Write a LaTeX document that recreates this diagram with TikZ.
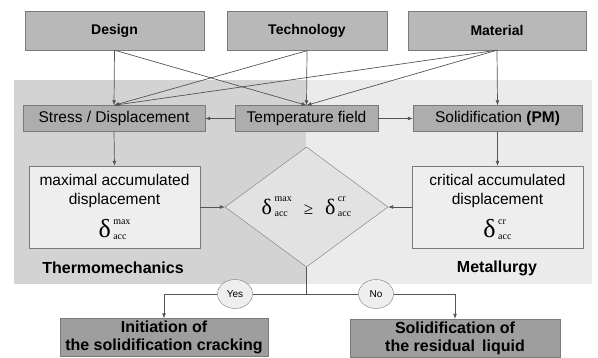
\documentclass[tikz,border=0pt]{standalone}
\usepackage{fontspec}
\setmainfont{Liberation Sans}
\newfontfamily\tms{Liberation Serif}
\usetikzlibrary{arrows.meta,shapes.geometric}

\definecolor{linegray}{HTML}{555555}
\definecolor{edgegray}{HTML}{7A7A7A}
\definecolor{topgray}{HTML}{B8B8B8}
\definecolor{midgray}{HTML}{ADADAD}
\definecolor{lowgray}{HTML}{9E9E9E}
\definecolor{thermogray}{HTML}{D3D3D3}
\definecolor{metalgray}{HTML}{EBEBEB}
\definecolor{boxgray}{HTML}{EEEEEE}
\definecolor{diagray}{HTML}{E2E2E2}

% delta with accumulated index
\newcommand\dacc[2][26]{{\fontsize{#1}{#1}\selectfont\tms δ}\kern2.5pt%
  \raisebox{-2pt}{\fontsize{10}{15}\selectfont\tms
    \vbox{\baselineskip=15pt\hbox{#2}\hbox{acc}}}}

\tikzset{
  topbox/.style={draw=edgegray, fill=topgray, inner sep=0pt, minimum height=39pt,
    font=\fontsize{14}{16}\selectfont\bfseries},
  midbox/.style={draw=edgegray, fill=midgray, inner sep=0pt, minimum height=26pt,
    font=\fontsize{15.5}{18}\selectfont},
  accbox/.style={draw=edgegray, fill=boxgray, inner sep=0pt, minimum width=171pt,
    minimum height=82pt, align=center, font=\fontsize{15.5}{19}\selectfont},
  lowbox/.style={draw=edgegray, fill=lowgray, inner sep=0pt, minimum height=38pt,
    align=center, font=\fontsize{16}{18}\selectfont\bfseries},
  answer/.style={ellipse, draw=edgegray, fill=boxgray, inner sep=0pt,
    minimum width=35pt, minimum height=29pt, font=\fontsize{10}{12}\selectfont},
  area/.style={font=\fontsize{16}{18}\selectfont\bfseries},
  flow/.style={draw=linegray, line width=0.7pt, -{Latex[length=5pt,width=4pt]}},
  link/.style={draw=linegray, line width=0.7pt}
}

\begin{document}
\begin{tikzpicture}[x=1pt,y=-1pt]
\useasboundingbox (0,0) rectangle (598,358);

% panels
\fill[thermogray] (14,80) rectangle (306,284);
\fill[metalgray] (306,80) rectangle (592,284);

% inputs
\node[topbox, minimum width=179pt] (design) at (114.5,30.5) {Design};
\node[topbox, minimum width=160pt] (techno) at (307,31) {Technology};
\node[topbox, minimum width=178pt] (material) at (497,30.5) {Material};

% fields
\node[midbox, minimum width=182pt] (stress) at (114,118.5) {Stress / Displacement};
\node[midbox, minimum width=143pt] (temp) at (306.5,118.5) {Temperature field};
\node[midbox, minimum width=169pt] (solid) at (497.5,118.5) {Solidification \textbf{(PM)}};

% criteria
\node[accbox] (maxacc) at (114.5,207) {maximal accumulated\\displacement\\[10pt]\dacc{max}};
\node[accbox] (cracc) at (497.5,207) {critical accumulated\\displacement\\[10pt]\dacc{cr}};
\node[diamond, draw=edgegray, fill=diagray, inner sep=0pt, minimum width=163pt,
  minimum height=120pt, font=\fontsize{17}{19}\selectfont] (cmp) at (306.5,207)
  {\dacc[22]{max}\hspace{12pt}{\tms ≥}\hspace{12pt}\dacc[22]{cr}};

\node[area] (thermo) at (113,268) {Thermomechanics};
\node[area] (metal) at (497,268) {Metallurgy};

% results
\coordinate (split) at (306.5,294);
\node[answer] (yes) at (235,294) {Yes};
\node[answer] (no) at (376,294) {No};
\node[lowbox, minimum width=208pt] (crack) at (164,337.5) {Initiation of\\the solidification cracking};
\node[lowbox, minimum width=210pt] (residual) at (455,338) {Solidification of\\the residual\, liquid};

% connectors
\draw[flow] (design.south) -- (stress.north);
\draw[flow] (design.south) -- (temp.north);
\draw[flow] (techno.south) -- (temp.north);
\draw[flow] (techno.south) -- (stress.north);
\draw[flow] (material.south) -- (solid.north);
\draw[flow] (material.south) -- (stress.north);
\draw[flow] (material.south) -- (temp.north);

\draw[flow] (temp.west) -- (stress.east);
\draw[flow] (temp.east) -- (solid.west);
\draw[flow] (stress.south) -- (maxacc.north);
\draw[flow] (solid.south) -- (cracc.north);
\draw[flow] (maxacc.east) -- (cmp.west);
\draw[flow] (cracc.west) -- (cmp.east);

\draw[link] (cmp.south) -- (split);
\draw[link] (split) -- (yes);
\draw[link] (split) -- (no);
\draw[flow] (yes) -| (crack.north);
\draw[flow] (no) -| (residual.north);
\end{tikzpicture}
\end{document}
